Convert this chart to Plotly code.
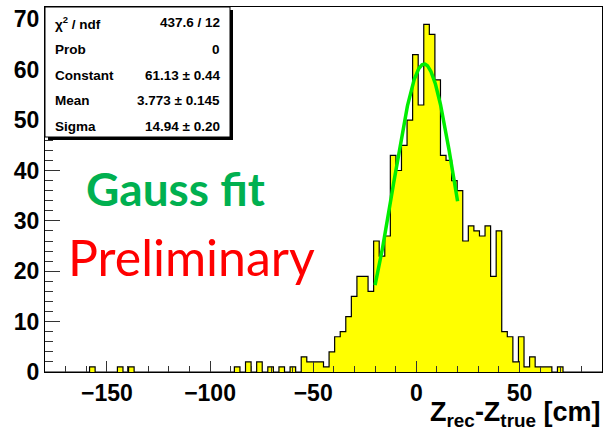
import numpy as np
import plotly.graph_objects as go

# ---------------- data ----------------
bin_low = -180.0
bin_width = 2.7
counts = [
    0, 0, 0, 0, 0, 0, 0, 0, 1, 0,      # 0-9
    0, 0, 0, 1, 0, 1, 0, 0, 0, 0,      # 10-19
    0, 0, 0, 0, 0, 0, 0, 0, 0, 0,      # 20-29
    0, 0, 0, 0, 1, 0, 2, 0, 2, 0,      # 30-39
    1, 0, 1, 0, 1, 0, 3, 2, 2, 2,      # 40-49
    1, 4, 7, 8, 11, 15, 19, 19, 16, 26,  # 50-59
    23, 27, 43, 40, 45, 50, 63, 53, 69, 67,  # 60-69
    58, 43, 42, 38, 36, 26, 29, 28, 27, 29,  # 70-79
    19, 28, 8, 7, 2, 7, 1, 3, 1, 1,    # 80-89
    1, 0, 1, 0, 0, 0, 0, 0, 0, 0,      # 90-99
]
fit_constant = 61.13
fit_mean = 3.773
fit_sigma = 14.94
fit_range = [-20.0, 20.0]

stats_labels = ["χ<sup>2</sup> / ndf", "Prob", "Constant", "Mean", "Sigma"]
stats_values = ["437.6 / 12", "0", "61.13 ± 0.44", "3.773 ± 0.145", "14.94 ± 0.20"]

x_range = [-180, 90]
x_tick_vals = [-150, -100, -50, 0, 50]
y_tick_vals = [0, 10, 20, 30, 40, 50, 60, 70]

# ---------------- derived ----------------
n = len(counts)
edges = [bin_low + i * bin_width for i in range(n + 1)]
centers = [bin_low + (i + 0.5) * bin_width for i in range(n)]
y_max = 1.05 * max(counts)

fx = np.linspace(fit_range[0], fit_range[1], 300)
fy = fit_constant * np.exp(-0.5 * ((fx - fit_mean) / fit_sigma) ** 2)

# pixel layout helpers
W, H = 605, 434
L, R, T, B = 45, 602, 7, 372


def px(x):
    return (x - L) / (R - L)


def py(y):
    return (B - y) / (B - T)


fig = go.Figure()
fig.add_trace(go.Bar(x=centers, y=counts, width=bin_width,
                     marker=dict(color="#ffff00", line=dict(width=0)),
                     hoverinfo="skip"))
fig.add_trace(go.Scatter(x=edges, y=counts + [counts[-1]], mode="lines",
                         line=dict(color="black", width=1.2, shape="hv"),
                         hoverinfo="skip"))
fig.add_trace(go.Scatter(x=fx, y=fy, mode="lines",
                         line=dict(color="#00ee00", width=3.5),
                         hoverinfo="skip"))

tickfont = dict(family="Liberation Sans", size=23, color="black", weight="bold")

fig.update_layout(
    width=W, height=H,
    margin=dict(l=L, r=W - R, t=T, b=H - B),
    paper_bgcolor="white", plot_bgcolor="white",
    showlegend=False, bargap=0,
    xaxis=dict(range=x_range, tickvals=x_tick_vals, ticks="inside", ticklen=11,
               tickcolor="#333", tickwidth=1, showgrid=False, zeroline=False,
               showline=True, linecolor="black", linewidth=1, mirror=True,
               tickfont=tickfont,
               minor=dict(ticks="inside", ticklen=6, dtick=10, tickcolor="#333",
                          showgrid=False)),
    yaxis=dict(range=[0, y_max], tickvals=y_tick_vals, ticks="inside", ticklen=15,
               tickcolor="#333", tickwidth=1, showgrid=False, zeroline=False,
               showline=True, linecolor="black", linewidth=1, mirror=True,
               tickfont=tickfont,
               minor=dict(ticks="inside", ticklen=8, dtick=2, tickcolor="#333",
                          showgrid=False)),
)

shapes = []
# stats box shadow and box
shapes.append(dict(type="rect", xref="paper", yref="paper",
                   x0=px(48), x1=px(233), y0=py(140), y1=py(10),
                   fillcolor="black", line=dict(width=0), layer="above"))
shapes.append(dict(type="rect", xref="paper", yref="paper",
                   x0=px(45), x1=px(230), y0=py(137), y1=py(7),
                   fillcolor="white", line=dict(color="black", width=1), layer="above"))
fig.update_layout(shapes=shapes)

row_y = [22.7, 49.3, 75, 100.7, 126.7]
boxfont = dict(family="Liberation Sans", size=13.5, color="black", weight="bold")
for lab, val, yy in zip(stats_labels, stats_values, row_y):
    fig.add_annotation(x=px(53), y=py(yy), xref="paper", yref="paper", text=lab,
                       showarrow=False, xanchor="left", yanchor="middle", font=boxfont)
    fig.add_annotation(x=px(222), y=py(yy), xref="paper", yref="paper", text=val,
                       showarrow=False, xanchor="right", yanchor="middle", font=boxfont)

fig.add_annotation(x=px(84), y=py(188), xref="paper", yref="paper", text="Gauss fit",
                   showarrow=False, xanchor="left", yanchor="middle",
                   font=dict(family="Lato", size=46, color="#00b050", weight="bold"))
fig.add_annotation(x=px(66), y=py(257), xref="paper", yref="paper", text="Preliminary",
                   showarrow=False, xanchor="left", yanchor="middle",
                   font=dict(family="Lato", size=50, color="#ff0000"))

fig.add_annotation(x=px(603), y=py(414), xref="paper", yref="paper",
                   text="Z<sub>rec</sub>-Z<sub>true</sub> [cm]",
                   showarrow=False, xanchor="right", yanchor="middle",
                   font=dict(family="Liberation Sans", size=27, color="black", weight="bold"))

fig.write_html("out.html")
